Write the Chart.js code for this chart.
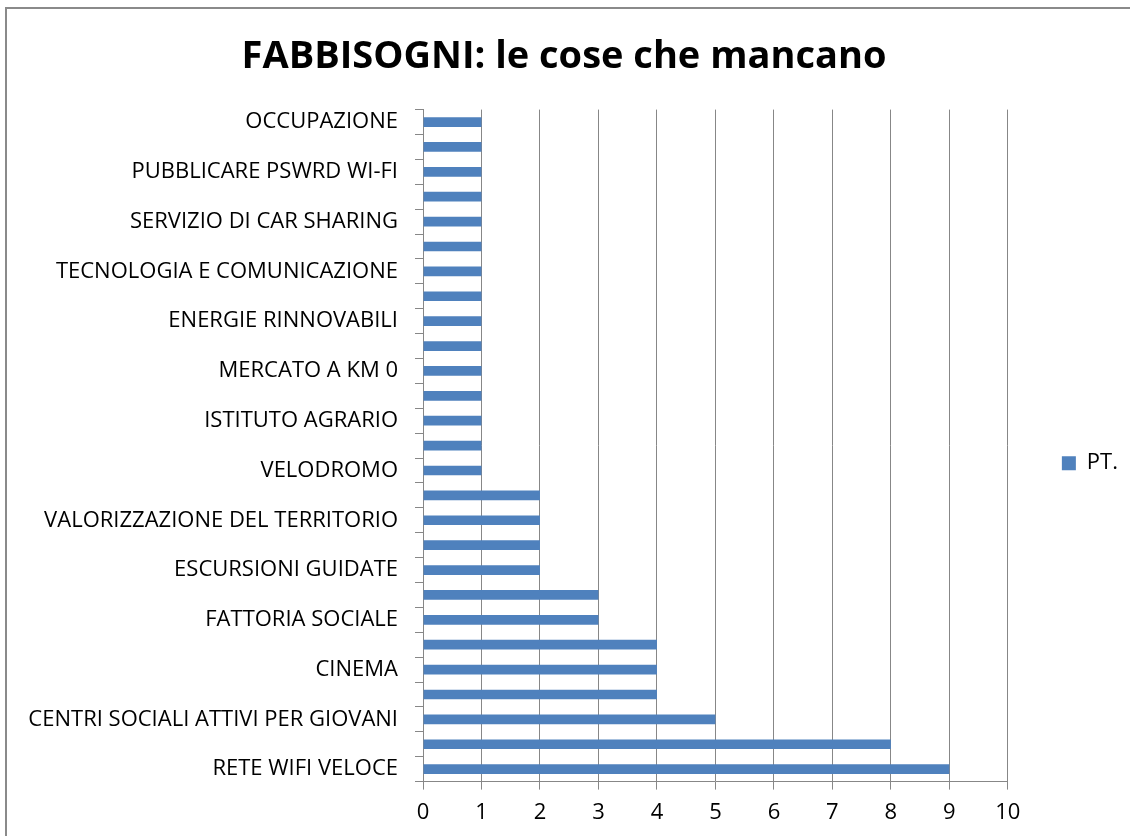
<!DOCTYPE html>
<html><head><meta charset="utf-8">
<script src="https://cdn.jsdelivr.net/npm/chart.js@4"></script>
<style>
html,body{margin:0;padding:0;background:#fff;overflow:hidden;width:1130px;height:836px;}
#frame{position:absolute;left:5px;top:7px;width:2000px;height:2000px;border:2px solid #8a8a8a;box-sizing:border-box;}
#wrap{position:absolute;left:0;top:0;width:1130px;height:836px;}
</style></head>
<body>
<div id="frame"></div>
<div id="wrap"><canvas id="c" width="1130" height="836"></canvas></div>
<script>
const chartTitle = "FABBISOGNI: le cose che mancano";
const seriesName = "PT.";
const categories = [
  "OCCUPAZIONE", "",
  "PUBBLICARE PSWRD WI-FI", "",
  "SERVIZIO DI CAR SHARING", "",
  "TECNOLOGIA E COMUNICAZIONE", "",
  "ENERGIE RINNOVABILI", "",
  "MERCATO A KM 0", "",
  "ISTITUTO AGRARIO", "",
  "VELODROMO", "",
  "VALORIZZAZIONE DEL TERRITORIO", "",
  "ESCURSIONI GUIDATE", "",
  "FATTORIA SOCIALE", "",
  "CINEMA", "",
  "CENTRI SOCIALI ATTIVI PER GIOVANI", "",
  "RETE WIFI VELOCE"
];
const values = [1,1,1,1,1,1,1,1,1,1,1,1,1,1,1,2,2,2,2,3,3,4,4,4,5,8,9];
const xTicks = [0,1,2,3,4,5,6,7,8,9,10];

const FONT = "'Open Sans', Lato, sans-serif";
const GRID = "#878787";

new Chart(document.getElementById('c'), {
  type: 'bar',
  data: {
    labels: categories,
    datasets: [{
      label: seriesName,
      data: values,
      backgroundColor: '#4F81BD',
      borderWidth: 0,
      barPercentage: 0.78,
      categoryPercentage: 0.5
    }]
  },
  options: {
    indexAxis: 'y',
    responsive: false,
    animation: false,
    devicePixelRatio: 1,
    layout: { padding: { left: 0, right: 2, top: 14, bottom: 0 } },
    plugins: {
      title: {
        display: true,
        text: chartTitle,
        color: '#000',
        font: { family: FONT, size: 38, weight: 'bold' },
        padding: { top: 20, bottom: 30 }
      },
      legend: {
        position: 'right',
        title: { display: true, text: '', font: { size: 12 }, padding: { top: 0, bottom: 62 } },
        labels: {
          color: '#000',
          font: { family: FONT, size: 22 },
          boxWidth: 14, boxHeight: 14,
          padding: 54
        }
      },
      tooltip: { enabled: false }
    },
    scales: {
      x: {
        min: 0, max: 10,
        afterBuildTicks: (s) => { s.ticks = xTicks.map(v => ({ value: v })); },
        grid: { color: GRID, lineWidth: 1, tickLength: 8, drawTicks: true },
        border: { display: true, color: GRID },
        ticks: { color: '#000', font: { family: FONT, size: 22 }, padding: 10 }
      },
      y: {
        afterFit: (s) => { s.width = 423; },
        grid: { drawOnChartArea: false, offset: true, color: GRID, tickLength: 8, drawTicks: true },
        border: { display: true, color: GRID },
        ticks: { autoSkip: false, color: '#000', font: { family: FONT, size: 22 }, padding: 17 }
      }
    }
  }
});
</script>
</body></html>
